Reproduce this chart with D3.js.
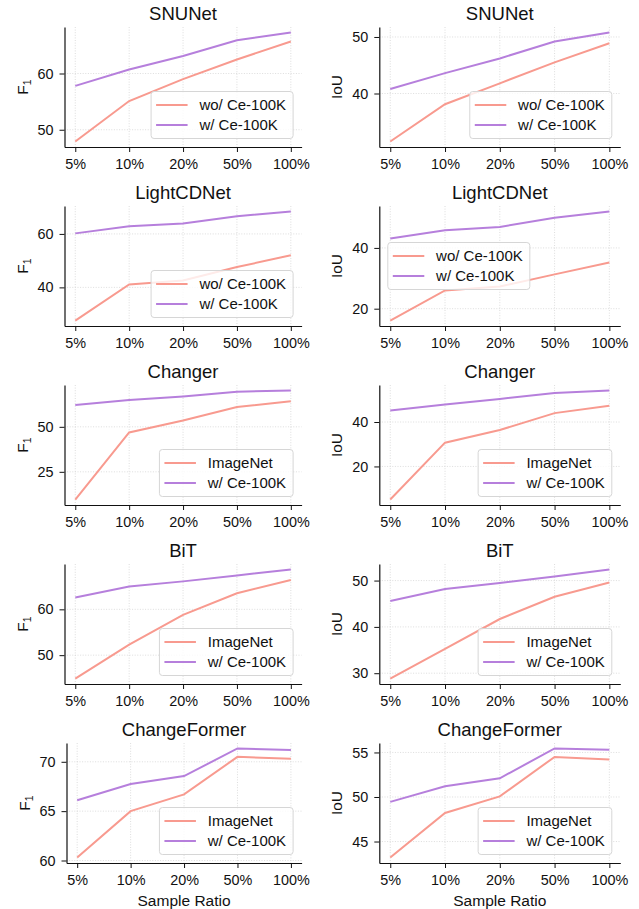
<!DOCTYPE html>
<html>
<head>
<meta charset="utf-8">
<script src="https://cdn.jsdelivr.net/npm/d3@7"></script>
<style>
  body { margin: 0; background: #fff; }
  svg { display: block; font-family: "Liberation Sans", Arial, sans-serif; }
</style>
</head>
<body>
<div id="chart"></div>
<script>
var ratios = ["5%", "10%", "20%", "50%", "100%"];
var models = ["SNUNet", "LightCDNet", "Changer", "BiT", "ChangeFormer"];
var baseLabels = ["wo/ Ce-100K", "wo/ Ce-100K", "ImageNet", "ImageNet", "ImageNet"];
var ceLabel = "w/ Ce-100K";

var f1Base = [
  [47.9, 55.1, 59.0, 62.5, 65.7],
  [27.6, 41.1, 42.6, 47.6, 52.0],
  [9.6, 46.9, 53.5, 61.0, 64.2],
  [44.9, 52.3, 58.8, 63.5, 66.4],
  [60.3, 65.0, 66.7, 70.5, 70.3]
];
var f1Ce = [
  [57.8, 60.7, 63.1, 65.9, 67.3],
  [60.2, 62.9, 63.9, 66.6, 68.4],
  [62.1, 64.9, 66.9, 69.5, 70.2],
  [62.6, 65.0, 66.1, 67.4, 68.7],
  [66.1, 67.75, 68.55, 71.35, 71.2]
];
var iouBase = [
  [31.5, 38.1, 41.8, 45.5, 48.9],
  [16.1, 26.0, 27.3, 31.3, 35.2],
  [5.1, 30.7, 36.4, 44.0, 47.3],
  [28.85, 35.25, 41.7, 46.5, 49.6],
  [43.2, 48.2, 50.07, 54.5, 54.2]
];
var iouCe = [
  [40.8, 43.6, 46.2, 49.2, 50.8],
  [43.1, 45.8, 46.9, 49.9, 52.0],
  [45.2, 47.9, 50.4, 53.1, 54.2],
  [45.6, 48.2, 49.5, 50.9, 52.4],
  [49.45, 51.2, 52.1, 55.45, 55.3]
];
var f1Ticks = [[50, 60], [40, 60], [25, 50], [50, 60], [60, 65, 70]];
var iouTicks = [[40, 50], [20, 40], [20, 40], [30, 40, 50], [45, 50, 55]];

var width = 639,
  height = 909;
var colors = { base: "#f89a8f", ce: "#b67fdc" };
var rowTop = 27,
  rowPitch = 179,
  plotHeight = 120;
var columns = [
  { left: 64.5, right: 301.6, metric: "F1", base: f1Base, ce: f1Ce, ticks: f1Ticks },
  { left: 379.3, right: 620.3, metric: "IoU", base: iouBase, ce: iouCe, ticks: iouTicks }
];

var svg = d3
  .select("#chart")
  .append("svg")
  .attr("width", width)
  .attr("height", height);

models.forEach(function (model, i) {
  columns.forEach(function (col, c) {
    drawPanel(model, i, col, c);
  });
});

function drawPanel(model, i, col, c) {
  var top = rowTop + i * rowPitch,
    bottom = top + plotHeight;
  var left = col.left + (c === 0 && i === 4 ? 2 : 0);
  var series = [
    { label: baseLabels[i], values: col.base[i], color: colors.base },
    { label: ceLabel, values: col.ce[i], color: colors.ce }
  ];

  var x = d3.scalePoint().domain(ratios).range([left, col.right]).padding(0.2);

  // matplotlib-style 5% margin around the data
  var all = col.base[i].concat(col.ce[i]);
  var ext = d3.extent(all),
    pad = (ext[1] - ext[0]) * 0.05;
  var y = d3
    .scaleLinear()
    .domain([ext[0] - pad, ext[1] + pad])
    .range([bottom, top]);

  var g = svg.append("g");

  // grid
  g.selectAll("line.vgrid")
    .data(ratios)
    .enter()
    .append("line")
    .attr("x1", function (d) { return x(d); })
    .attr("x2", function (d) { return x(d); })
    .attr("y1", top)
    .attr("y2", bottom)
    .attr("stroke", "#d4d4d4")
    .attr("stroke-width", 0.8)
    .attr("stroke-dasharray", "1,1.6");
  g.selectAll("line.hgrid")
    .data(col.ticks[i])
    .enter()
    .append("line")
    .attr("x1", left)
    .attr("x2", col.right)
    .attr("y1", function (d) { return y(d); })
    .attr("y2", function (d) { return y(d); })
    .attr("stroke", "#d4d4d4")
    .attr("stroke-width", 0.8)
    .attr("stroke-dasharray", "1,1.6");

  // lines
  var line = d3
    .line()
    .x(function (d, k) { return x(ratios[k]); })
    .y(function (d) { return y(d); });
  g.selectAll("path.series")
    .data(series)
    .enter()
    .append("path")
    .attr("fill", "none")
    .attr("stroke", function (d) { return d.color; })
    .attr("stroke-width", 2)
    .attr("d", function (d) { return line(d.values); });

  // axes
  var xAxis = g
    .append("g")
    .attr("transform", "translate(0," + bottom + ")")
    .call(d3.axisBottom(x).tickSize(5).tickSizeOuter(0).tickPadding(6.5));
  var yAxis = g
    .append("g")
    .attr("transform", "translate(" + left + ",0)")
    .call(d3.axisLeft(y).tickValues(col.ticks[i]).tickSize(5).tickSizeOuter(0).tickPadding(6));
  [xAxis, yAxis].forEach(function (a) {
    a.select(".domain").attr("stroke", "#111").attr("stroke-width", 1.2);
    a.selectAll(".tick line").attr("stroke", "#111").attr("stroke-width", 1);
    a.selectAll(".tick text")
      .attr("fill", "#111")
      .attr("font-size", "14.4px")
      .attr("font-family", "Liberation Sans, Arial, sans-serif");
  });

  // title
  g.append("text")
    .attr("x", (left + col.right) / 2)
    .attr("y", top - 7)
    .attr("text-anchor", "middle")
    .attr("font-size", "18.5px")
    .attr("fill", "#111")
    .text(model);

  // y label
  var yl = g
    .append("text")
    .attr("transform", "translate(" + (left - 37) + "," + (top + bottom) / 2 + ") rotate(-90)")
    .attr("text-anchor", "middle")
    .attr("font-size", "15.5px")
    .attr("fill", "#111");
  if (col.metric === "F1") {
    yl.append("tspan").text("F");
    yl.append("tspan").attr("font-size", "10.5px").attr("dy", 3.5).text("1");
  } else {
    yl.text("IoU");
  }

  if (i === models.length - 1) {
    g.append("text")
      .attr("x", (left + col.right) / 2)
      .attr("y", bottom + 43)
      .attr("text-anchor", "middle")
      .attr("font-size", "15.5px")
      .attr("fill", "#111")
      .text("Sample Ratio");
  }

  drawLegend(g, series, left, col.right, top, bottom, c === 1 && i === 1 ? "center left" : "lower right");
}

function drawLegend(g, series, left, right, top, bottom, loc) {
  var boxHeight = 47,
    handleX = 5,
    handleLen = 31.5,
    textX = 48.3,
    rightPad = 7,
    inset = 8.5;

  var lg = g.append("g");
  var box = lg
    .append("rect")
    .attr("fill", "#fff")
    .attr("fill-opacity", 0.8)
    .attr("stroke", "#d6d6d6")
    .attr("stroke-width", 1)
    .attr("rx", 3)
    .attr("height", boxHeight);

  var items = lg
    .selectAll("g.item")
    .data(series)
    .enter()
    .append("g")
    .attr("transform", function (d, k) {
      return "translate(0," + (13.5 + k * 20) + ")";
    });
  items
    .append("line")
    .attr("x1", handleX)
    .attr("x2", handleX + handleLen)
    .attr("stroke", function (d) { return d.color; })
    .attr("stroke-width", 2);
  items
    .append("text")
    .attr("x", textX)
    .attr("dy", "0.35em")
    .attr("font-size", "15px")
    .attr("fill", "#111")
    .text(function (d) { return d.label; });

  var textWidth = d3.max(items.selectAll("text").nodes(), function (n) {
    return n.getComputedTextLength();
  });
  var boxWidth = textX + textWidth + rightPad;
  box.attr("width", boxWidth);

  var bx, by;
  if (loc === "center left") {
    bx = left + inset;
    by = (top + bottom) / 2 - boxHeight / 2;
  } else {
    bx = right - inset - boxWidth;
    by = bottom - inset - boxHeight;
  }
  lg.attr("transform", "translate(" + bx + "," + by + ")");
}
</script>
</body>
</html>
